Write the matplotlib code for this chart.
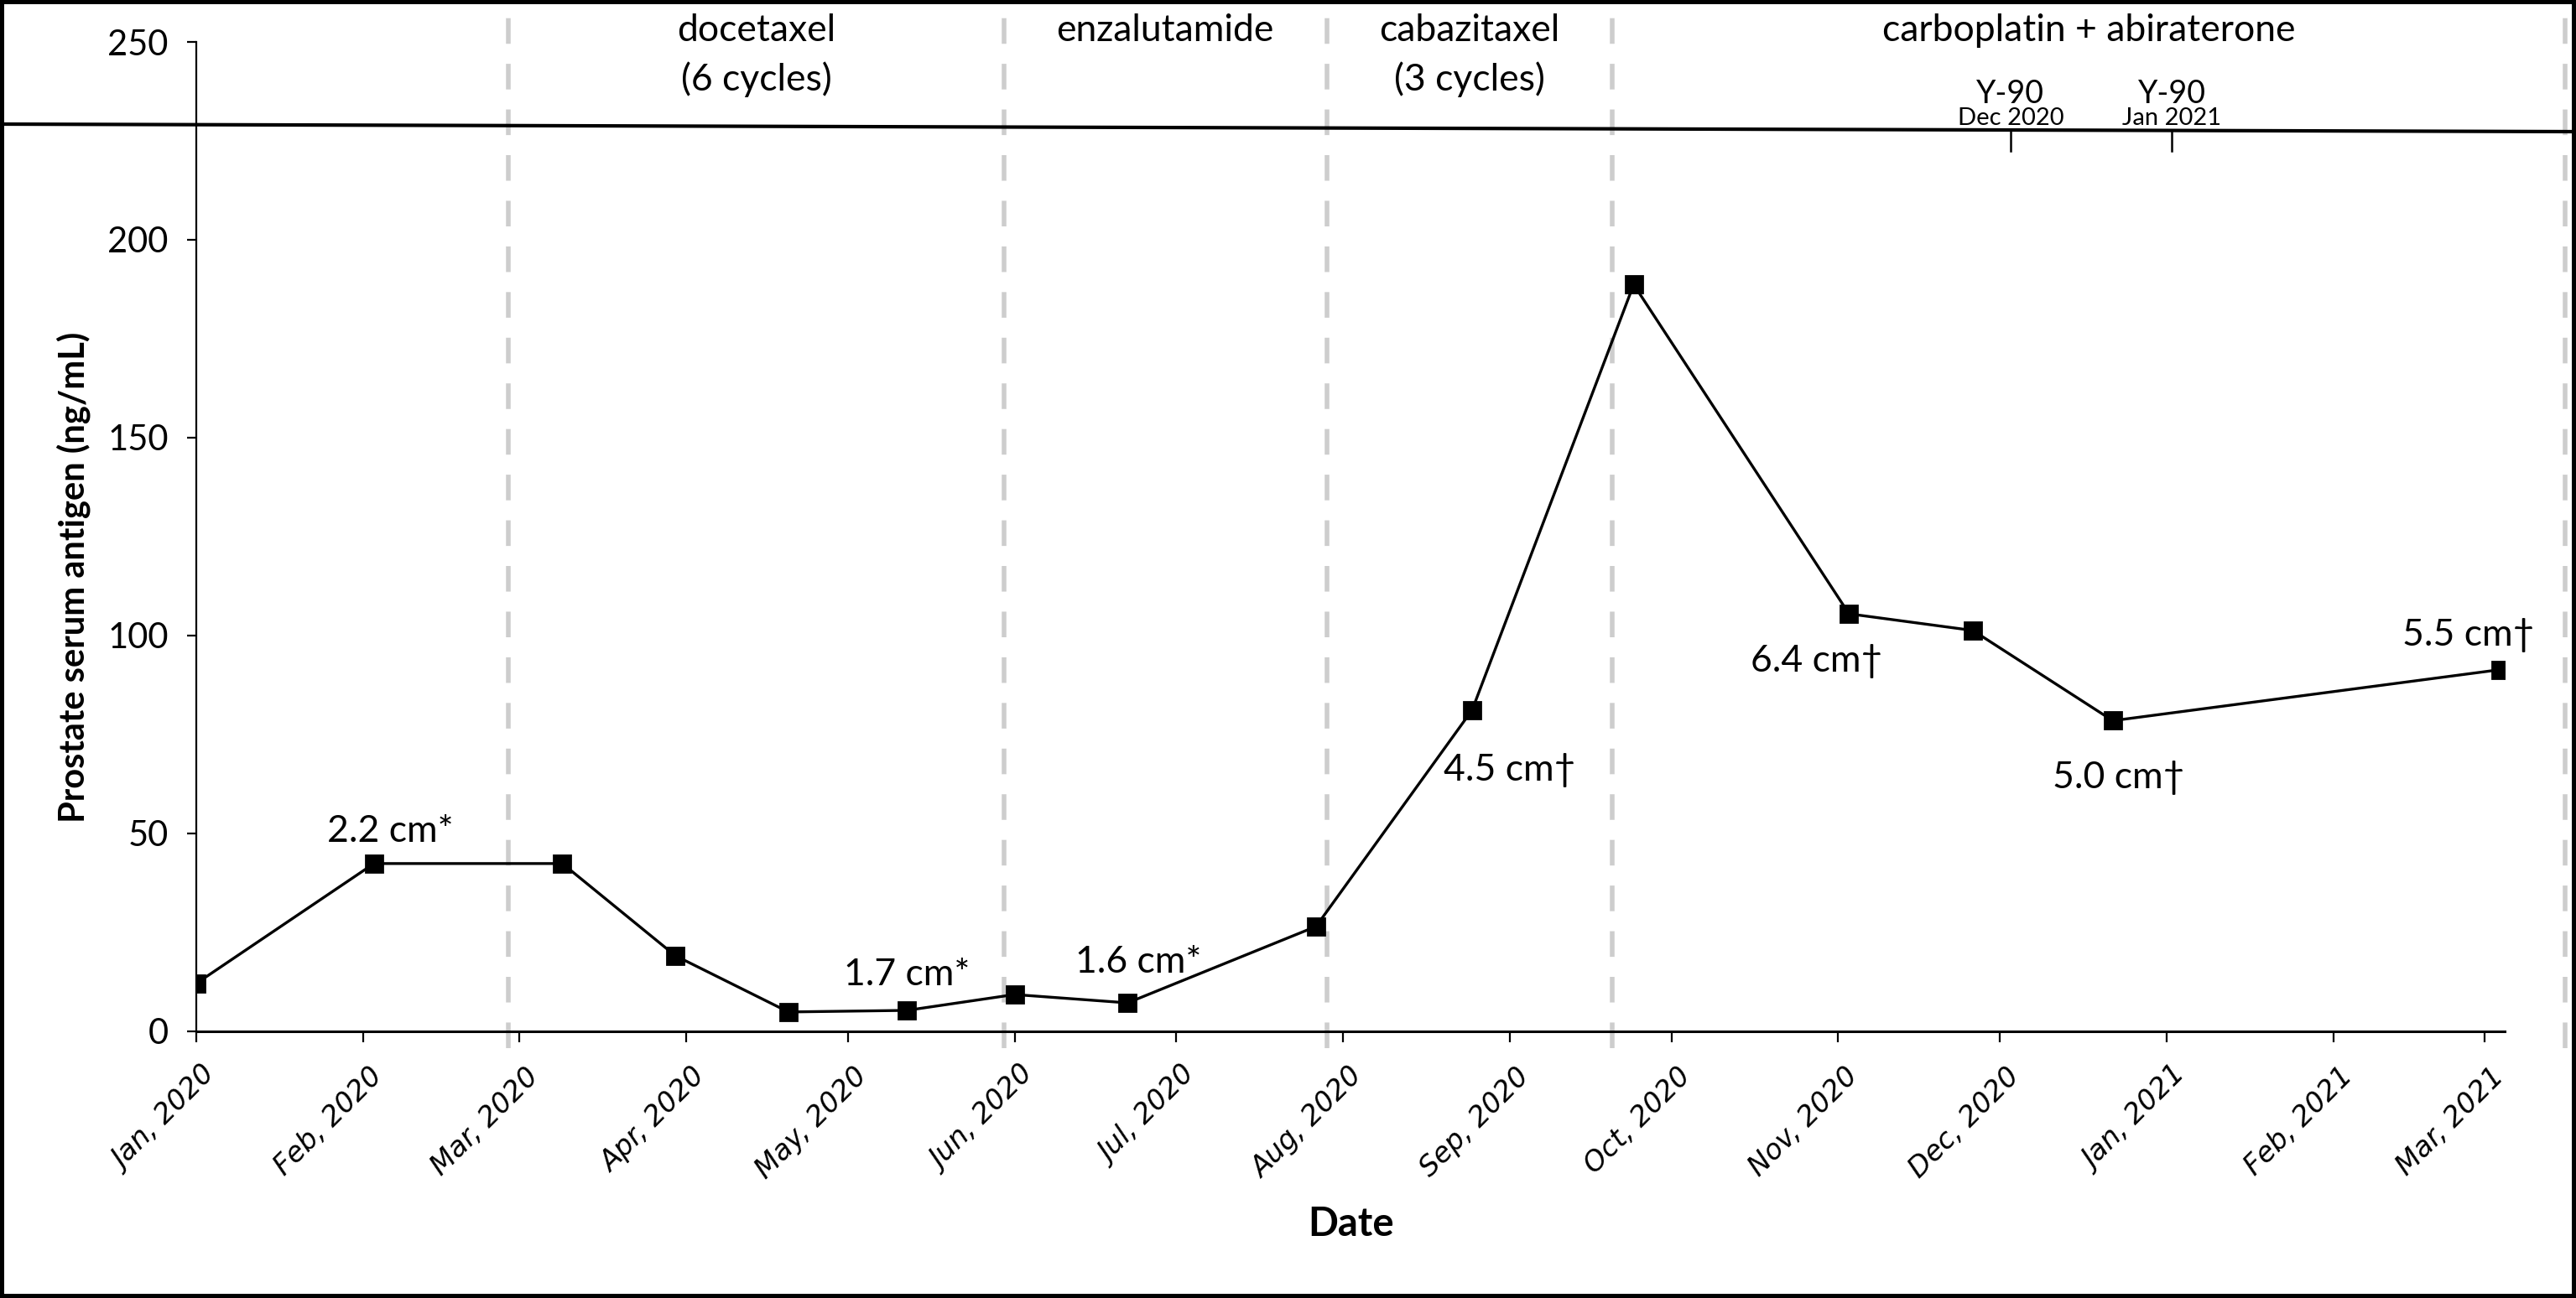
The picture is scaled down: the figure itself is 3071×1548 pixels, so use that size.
import matplotlib
matplotlib.use("Agg")
import matplotlib.pyplot as plt
import matplotlib.dates as mdates
from matplotlib.lines import Line2D
from matplotlib.patches import Rectangle
from matplotlib.transforms import ScaledTranslation
import numpy as np

# PSA measurements
dates = ["2020-01-01", "2020-02-03", "2020-03-09", "2020-03-30", "2020-04-20",
         "2020-05-12", "2020-06-01", "2020-06-22", "2020-07-27", "2020-08-25",
         "2020-09-24", "2020-11-03", "2020-11-26", "2020-12-22", "2021-03-04"]
psa = [12.1, 42.4, 42.4, 19.1, 4.9, 5.3, 9.3, 7.2, 26.5, 81.2,
       188.7, 105.5, 101.3, 78.5, 91.4]

# lesion size annotations
lesion_labels = ["2.2 cm*", "1.7 cm*", "1.6 cm*", "4.5 cm\u2020",
                 "6.4 cm\u2020", "5.0 cm\u2020", "5.5 cm\u2020"]
lesion_dates = ["2020-02-06", "2020-05-12", "2020-06-24", "2020-09-01",
                "2020-10-28", "2020-12-23", "2021-02-26"]
lesion_y = [50.6, 14.2, 17.4, 66.1, 93.6, 64.0, 100.0]

# treatment periods (boundaries are the dashed lines)
boundaries = ["2020-02-28", "2020-05-30", "2020-07-29", "2020-09-20", "2021-03-16"]
treatments = ["docetaxel", "enzalutamide", "cabazitaxel", "carboplatin + abiraterone"]
cycles = ["(6 cycles)", "", "(3 cycles)", ""]

y90_dates = ["2020-12-03", "2021-01-02"]
y90_labels = ["Dec 2020", "Jan 2021"]

CAL = ["Lato", "DejaVu Sans"]

d = np.array(dates, dtype="datetime64[D]")
bnd = mdates.date2num(np.array(boundaries, dtype="datetime64[D]"))

fig = plt.figure(figsize=(15.355, 7.74), dpi=200)
ax = fig.add_axes([0.07620, 0.20543, 0.89612, 0.76227])

for b in bnd:
    ax.axvline(b, ymin=-0.017, ymax=1.034, clip_on=False, color="#cdcdcd",
               lw=2.0, dashes=(5.5, 4.3), zorder=1)

ax.plot(d, psa, color="black", lw=1.2, marker="s", ms=7.5,
        mfc="black", mec="black", zorder=3)

for lbl, ld, ly in zip(lesion_labels, lesion_dates, lesion_y):
    ax.text(np.datetime64(ld), ly, lbl, ha="center", va="center",
            fontsize=16, family=CAL)

for i, (name, cyc) in enumerate(zip(treatments, cycles)):
    mid = (bnd[i] + bnd[i + 1]) / 2
    ax.text(mid, 252.8, name, ha="center", va="center", fontsize=16, family=CAL)
    if cyc:
        ax.text(mid, 240.5, cyc, ha="center", va="center", fontsize=16, family=CAL)

for yd, yl in zip(y90_dates, y90_labels):
    x = mdates.date2num(np.datetime64(yd))
    ax.text(x, 236.9, "Y-90", ha="center", va="center", fontsize=13.5, family=CAL)
    ax.text(x, 230.7, yl, ha="center", va="center", fontsize=10.5, family=CAL)
    ax.plot([x, x], [227.3, 222.5], color="black", lw=0.9, clip_on=False)

ax.set_ylim(0, 250)
ax.set_yticks(np.arange(0, 251, 50))
ax.set_xlim(mdates.date2num(np.datetime64("2020-01-01")),
            mdates.date2num(np.datetime64("2021-01-01")) + 62.8)
ax.xaxis.set_major_locator(mdates.MonthLocator())
ax.xaxis.set_major_formatter(mdates.DateFormatter("%b, %Y"))

for s in ["top", "right"]:
    ax.spines[s].set_visible(False)
ax.spines["left"].set_linewidth(0.8)
ax.spines["bottom"].set_linewidth(1.1)
ax.tick_params(axis="y", length=4, width=0.8, pad=8)
ax.tick_params(axis="x", length=4.5, width=0.8, pad=13)
for t in ax.get_yticklabels():
    t.set_family(CAL)
    t.set_fontsize(15)
for t in ax.get_xticklabels():
    t.set_rotation(45)
    t.set_ha("right")
    t.set_va("center")
    t.set_rotation_mode("anchor")
    t.set_family("DejaVu Sans")
    t.set_style("italic")
    t.set_fontsize(12)
    t.set_transform(t.get_transform() + ScaledTranslation(0.09, 0, fig.dpi_scale_trans))

fig.text(88 / 3071, 1 - 688 / 1548, "Prostate serum antigen (ng/mL)", rotation=90,
         ha="center", va="center", fontsize=15, fontweight="bold", family=CAL)
fig.text(0.5243, 0.0568, "Date", ha="center", va="center", fontsize=17,
         fontweight="bold", family=CAL)

fig.add_artist(Line2D([0, 1], [1 - 148 / 1548, 1 - 157 / 1548],
                      transform=fig.transFigure, color="black", lw=1.5, zorder=5))
fig.add_artist(Rectangle((0, 0), 1, 1, transform=fig.transFigure, fill=False,
                         ec="black", lw=3.6, zorder=6))

fig.savefig("out.png", dpi=200)
plt.close(fig)
